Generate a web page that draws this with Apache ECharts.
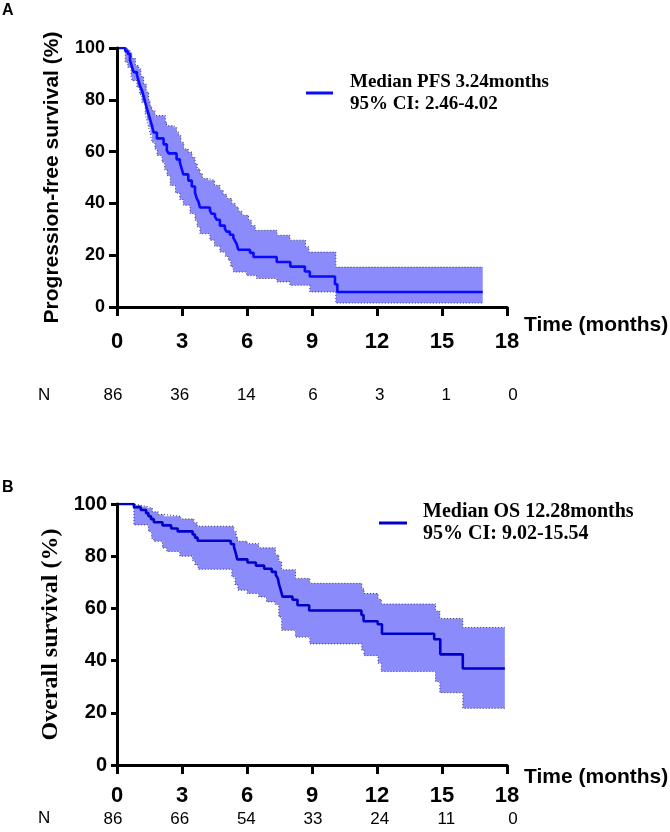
<!DOCTYPE html>
<html><head><meta charset="utf-8">
<script src="https://cdn.jsdelivr.net/npm/echarts@6/dist/echarts.min.js"></script>
<style>html,body{margin:0;padding:0;background:#fff}#c{width:670px;height:832px}</style>
</head><body><div id="c"></div>
<script>
const xTicks = [0, 3, 6, 9, 12, 15, 18];
const yTicks = [0, 20, 40, 60, 80, 100];
const riskA = [86, 36, 14, 6, 3, 1, 0];
const riskB = [86, 66, 54, 33, 24, 11, 0];
const legendA = ['Median PFS 3.24months', '95% CI: 2.46-4.02'];
const legendB = ['Median OS 12.28months', '95% CI: 9.02-15.54'];
const yTitleA = 'Progression-free survival (%)';
const yTitleB = 'Overall survival (%)';
const xTitle = 'Time (months)';

const pfsCurve = [[0,100],[0.38,98.8],[0.5,97.7],[0.6,95.3],[0.68,93.0],[0.77,90.7],[0.92,89.5],[1.0,87.2],[1.08,84.9],[1.15,83.7],[1.23,81.4],[1.3,79.1],[1.38,76.7],[1.46,74.4],[1.54,72.1],[1.62,69.8],[1.69,67.4],[1.84,65.1],[2.15,62.8],[2.3,60.5],[2.38,59.3],[2.75,57.0],[2.9,55.8],[2.98,53.5],[3.06,51.2],[3.29,48.8],[3.45,46.5],[3.6,44.2],[3.68,41.9],[3.76,40.7],[3.83,38.4],[4.29,37.2],[4.37,36.0],[4.52,34.9],[4.6,33.7],[4.75,31.4],[4.98,30.2],[5.06,29.1],[5.21,27.9],[5.37,26.7],[5.44,25.6],[5.52,24.4],[5.6,22.1],[6.14,20.9],[6.3,19.3],[7.37,17.4],[8.0,15.6],[8.67,13.7],[8.9,11.8],[10.06,8.8],[10.17,5.8],[16.88,5.8]];
const pfsUpper = [[0,100],[0.5,99.0],[0.61,98.3],[0.7,96.0],[0.85,93.2],[1.0,91.9],[1.1,89.0],[1.23,86.1],[1.35,83.0],[1.46,79.7],[1.54,77.5],[1.62,75.8],[1.75,73.9],[2.23,71.5],[2.31,70.0],[2.61,69.4],[2.75,67.5],[2.85,66.2],[2.95,63.5],[3.08,61.0],[3.29,59.8],[3.46,57.8],[3.6,55.4],[3.7,53.3],[3.83,51.5],[3.94,49.6],[4.21,48.9],[4.5,47.0],[4.75,45.1],[4.9,43.5],[5.06,41.9],[5.3,40.0],[5.46,38.6],[5.6,37.0],[5.77,35.4],[6.07,33.5],[6.2,31.5],[6.38,29.6],[7.38,27.7],[7.98,25.8],[8.7,23.3],[8.85,21.2],[10.1,15.4],[16.88,15.4]];
const pfsLower = [[0,100],[0.38,94.5],[0.5,92.5],[0.65,89.0],[0.69,87.4],[0.92,84.8],[1.05,82.0],[1.15,79.0],[1.3,74.5],[1.38,72.0],[1.46,69.4],[1.54,66.5],[1.62,63.6],[1.75,61.0],[1.85,58.5],[2.08,55.9],[2.2,53.0],[2.31,50.7],[2.46,46.9],[2.7,44.0],[2.9,41.5],[3.06,39.3],[3.37,36.1],[3.6,33.5],[3.7,31.0],[3.83,28.3],[4.29,25.8],[4.5,23.5],[4.75,21.2],[5.0,19.5],[5.14,18.0],[5.25,15.5],[5.37,13.5],[5.98,12.2],[6.44,11.0],[7.38,9.7],[7.98,8.4],[8.9,5.8],[10.1,1.5],[16.88,1.5]];

const osCurve = [[0,100],[0.78,98.8],[1.1,97.7],[1.34,96.5],[1.45,95.3],[1.57,94.2],[1.7,93.0],[2.1,91.8],[2.5,90.6],[2.8,89.5],[3.49,88.3],[3.6,87.1],[3.72,85.9],[5.25,84.7],[5.4,83.5],[5.48,81.2],[5.55,78.8],[6.02,77.6],[6.41,76.4],[6.79,75.2],[7.14,74.0],[7.33,72.8],[7.42,71.6],[7.48,69.2],[7.56,66.9],[7.64,64.5],[8.1,63.3],[8.33,61.2],[8.87,59.2],[11.28,57.5],[11.38,55.1],[12.03,53.9],[12.23,50.3],[14.64,48.2],[14.92,42.4],[15.96,37.0],[17.9,37.0]];
const osUpper = [[0,100],[0.78,99.5],[1.1,99.0],[1.4,98.5],[1.63,97.0],[1.9,96.0],[2.17,95.3],[2.94,94.3],[3.55,92.8],[3.7,91.5],[5.39,89.5],[5.5,87.5],[5.58,85.7],[6.01,84.8],[6.54,83.2],[7.31,80.5],[7.47,78.0],[7.6,74.8],[8.24,71.5],[8.9,69.6],[11.3,67.5],[11.4,65.7],[12.05,63.5],[12.2,61.7],[14.7,59.0],[14.9,56.1],[15.96,52.7],[17.9,52.7]];
const osLower = [[0,100],[0.78,92.0],[1.45,89.5],[1.6,86.8],[1.7,85.7],[2.1,83.1],[2.3,81.8],[2.9,80.0],[3.49,78.3],[3.6,76.6],[3.75,75.0],[5.3,72.1],[5.45,69.0],[5.58,67.0],[6.01,65.7],[6.54,64.4],[6.9,62.5],[7.3,61.5],[7.47,56.7],[7.6,51.6],[8.24,49.0],[8.9,46.4],[11.3,44.0],[11.4,41.9],[12.05,39.0],[12.2,35.8],[14.7,32.0],[14.9,27.7],[15.96,21.7],[17.9,21.7]];

const BAND = '#8b8bfb';
const EDGE = '#3a3a4a';
const SANS = 'Arial, "Liberation Sans", sans-serif';
const SERIF = '"Times New Roman", "Liberation Serif", serif';
const NARROW = '"Liberation Sans Narrow", "Arial Narrow", Arial, sans-serif';

function stepPts(arr) {
  const out = [];
  for (let i = 0; i < arr.length; i++) {
    out.push(arr[i]);
    if (i < arr.length - 1) out.push([arr[i + 1][0], arr[i][1]]);
  }
  return out;
}
function bandSeries(lower, upper, idx) {
  return {
    type: 'custom', xAxisIndex: idx, yAxisIndex: idx, silent: true, z: 1,
    data: [0],
    renderItem: function (params, api) {
      const pts = stepPts(upper).concat(stepPts(lower).reverse()).map(p => api.coord(p));
      return { type: 'polygon', shape: { points: pts }, style: { fill: BAND, stroke: null } };
    }
  };
}
function edgeSeries(data, idx) {
  return { type: 'line', xAxisIndex: idx, yAxisIndex: idx, step: 'end', symbol: 'none', silent: true, z: 2,
    data: data, lineStyle: { color: EDGE, width: 1, type: [1, 2] } };
}
function mainSeries(name, data, idx, color) {
  return { name: name, type: 'line', xAxisIndex: idx, yAxisIndex: idx, step: 'end', symbol: 'none', z: 3,
    data: data, color: color, lineStyle: { color: color, width: 2.6 } };
}
function xAxisMain(idx, labelMargin, nameLH, fs) {
  return {
    type: 'value', gridIndex: idx, min: xTicks[0], max: xTicks[xTicks.length - 1], interval: 3, z: 10,
    name: xTitle, nameLocation: 'end', nameGap: 17,
    nameTextStyle: { fontFamily: SANS, fontWeight: 'bold', fontSize: 21, color: '#000', verticalAlign: 'top', lineHeight: nameLH, align: 'left' },
    axisLine: { lineStyle: { color: '#000', width: 3 } },
    axisTick: { length: 9, lineStyle: { color: '#000', width: 3 } },
    axisLabel: { margin: labelMargin, fontFamily: SANS, fontWeight: 'bold', fontSize: fs, color: '#000' },
    splitLine: { show: false }
  };
}
function yAxisMain(idx, title, font, titleSize, gap, fs, tick) {
  return {
    type: 'value', gridIndex: idx, min: yTicks[0], max: yTicks[yTicks.length - 1], interval: 20, z: 10,
    name: title, nameLocation: 'middle', nameGap: gap,
    nameTextStyle: { fontFamily: font, fontWeight: 'bold', fontSize: titleSize, color: '#000' },
    axisLine: { lineStyle: { color: '#000', width: 3 } },
    axisTick: { length: tick, lineStyle: { color: '#000', width: 3 } },
    axisLabel: { margin: tick + 4, fontFamily: SANS, fontWeight: 'bold', fontSize: fs, color: '#000' },
    splitLine: { show: false }
  };
}
function riskX(idx, data, margin) {
  return {
    type: 'category', gridIndex: idx, data: data.map(String), boundaryGap: false,
    axisLine: { show: false }, axisTick: { show: false }, splitLine: { show: false },
    axisLabel: { margin: margin, interval: 0, fontFamily: NARROW, fontSize: 17, color: '#000' }
  };
}
function riskY(idx) { return { type: 'value', gridIndex: idx, show: false }; }

const chart = echarts.init(document.getElementById('c'), null, { renderer: 'canvas' });
chart.setOption({
  animation: false,
  backgroundColor: '#fff',
  grid: [
    { left: 117, top: 48, width: 390, height: 259 },
    { left: 117, top: 504, width: 390, height: 261 },
    { left: 113, top: 380, width: 400, height: 1 },
    { left: 113, top: 803, width: 400, height: 1 }
  ],
  xAxis: [xAxisMain(0, 24, 36, 22), xAxisMain(1, 20, 24, 22), riskX(2, riskA, 6), riskX(3, riskB, 7)],
  yAxis: [yAxisMain(0, yTitleA, SANS, 21, 54, 18, 8), yAxisMain(1, yTitleB, SERIF, 24, 54, 20, 6), riskY(2), riskY(3)],
  legend: [
    { data: [legendA.join('\n')], left: 306, top: 71, padding: 0, icon: 'rect', itemWidth: 27, itemHeight: 3,
      textStyle: { fontFamily: SERIF, fontWeight: 'bold', fontSize: 19, lineHeight: 22, color: '#000', padding: [0, 0, 0, 12] } },
    { data: [legendB.join('\n')], left: 379, top: 501, padding: 0, icon: 'rect', itemWidth: 28, itemHeight: 3,
      textStyle: { fontFamily: SERIF, fontWeight: 'bold', fontSize: 20, lineHeight: 22, color: '#000', padding: [0, 0, 0, 11] } }
  ],
  graphic: [
    { type: 'text', left: 2, top: 3, style: { text: 'A', font: 'bold 16px ' + SANS, fill: '#000' } },
    { type: 'text', left: 2, top: 480, style: { text: 'B', font: 'bold 16px ' + SANS, fill: '#000' } },
    { type: 'text', left: 38, top: 387, style: { text: 'N', font: '17px ' + NARROW, fill: '#000' } },
    { type: 'text', left: 38, top: 810, style: { text: 'N', font: '17px ' + NARROW, fill: '#000' } }
  ],
  series: [
    bandSeries(pfsLower, pfsUpper, 0),
    edgeSeries(pfsUpper, 0), edgeSeries(pfsLower, 0),
    mainSeries(legendA.join('\n'), pfsCurve, 0, '#0a0aff'),
    bandSeries(osLower, osUpper, 1),
    edgeSeries(osUpper, 1), edgeSeries(osLower, 1),
    mainSeries(legendB.join('\n'), osCurve, 1, '#0000c8')
  ]
});
</script>
</body></html>
